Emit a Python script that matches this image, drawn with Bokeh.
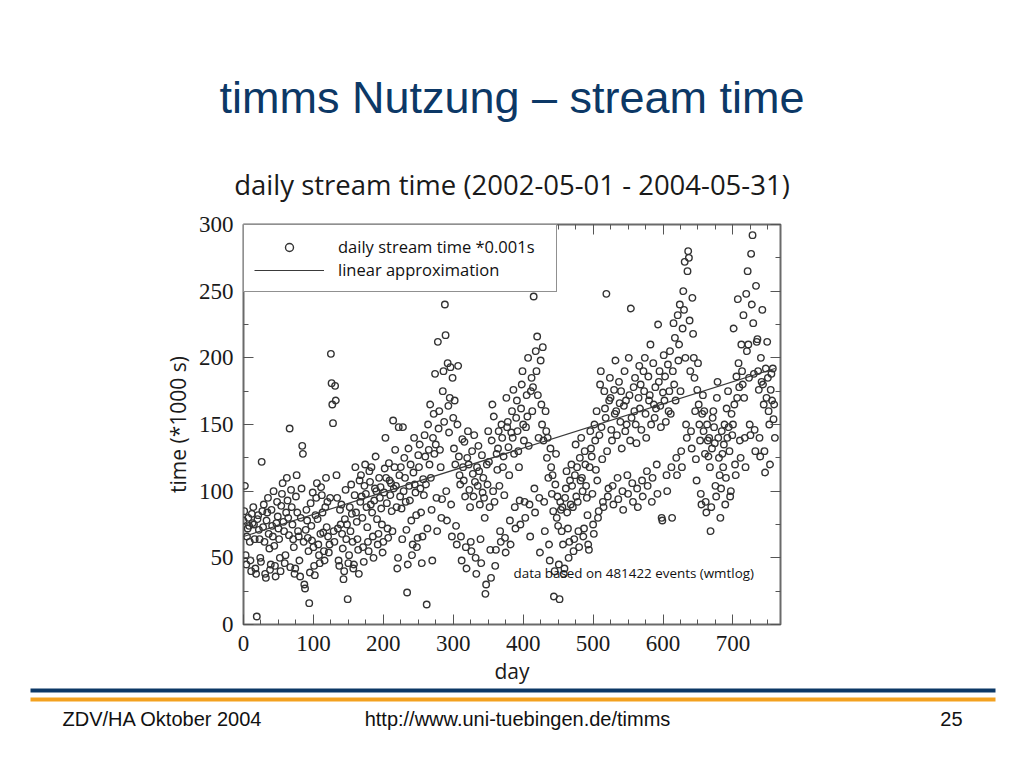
from bokeh.plotting import figure
from bokeh.models import (Label, BoxAnnotation, Legend, LegendItem, LinearAxis,
                          SingleIntervalTicker, Range1d, ColumnDataSource)
from bokeh.layouts import column
from bokeh.embed import file_html
from bokeh.resources import INLINE

# ---------------- data ----------------
slide_title = "timms Nutzung \u2013 stream time"
chart_title = "daily stream time (2002-05-01 - 2004-05-31)"
series_label = "daily stream time *0.001s"
fit_label = "linear approximation"
note_text = "data based on 481422 events (wmtlog)"
x_label = "day"
y_label = "time (*1000 s)"
footer_left = "ZDV/HA Oktober 2004"
footer_center = "http://www.uni-tuebingen.de/timms"
footer_right = "25"

# daily stream time in units of 1000 s, day 0 = 2002-05-01 (one row per week)
stream_time = [
    78, 85, 104, 52, 45, 66, 72,
    80, 74, 62, 48, 40, 83, 76,
    88, 75, 64, 42, 38, 6, 79,
    82, 71, 64, 50, 47, 122, 85,
    73, 90, 62, 38, 35, 78, 84,
    95, 68, 57, 41, 45, 86, 74,
    66, 100, 59, 44, 36, 76, 92,
    81, 72, 64, 50, 40, 89, 98,
    106, 77, 70, 46, 52, 84, 110,
    93, 80, 67, 147, 43, 101, 88,
    75, 64, 58, 38, 42, 96, 112,
    84, 70, 66, 48, 36, 80, 102,
    134, 128, 62, 30, 27, 71, 86,
    78, 65, 55, 16, 39, 91, 74,
    63, 99, 58, 44, 37, 82, 95,
    106, 79, 60, 52, 46, 68, 103,
    97, 84, 69, 55, 48, 88, 110,
    73, 92, 66, 54, 60, 95, 203,
    181, 165, 151, 70, 62, 179, 168,
    112, 95, 72, 48, 44, 86, 75,
    90, 68, 57, 34, 40, 79, 101,
    64, 75, 19, 46, 52, 88, 70,
    105, 83, 62, 42, 45, 97, 118,
    84, 77, 64, 56, 38, 108, 92,
    112, 96, 80, 58, 47, 104, 120,
    98, 88, 73, 62, 55, 115, 107,
    90, 118, 84, 66, 50, 93, 102,
    126, 100, 79, 60, 68, 110, 95,
    103, 87, 75, 54, 62, 99, 117,
    140, 110, 91, 72, 65, 121, 108,
    97, 106, 85, 70, 153, 102, 118,
    131, 104, 88, 42, 50, 148, 112,
    96, 118, 87, 64, 148, 100, 125,
    110, 92, 71, 24, 45, 132, 104,
    93, 120, 78, 52, 60, 114, 140,
    105, 99, 82, 58, 65, 127, 118,
    135, 102, 84, 46, 66, 109, 97,
    142, 126, 105, 15, 72, 150, 131,
    120, 165, 110, 86, 48, 140, 158,
    128, 188, 135, 95, 70, 212, 147,
    160, 131, 118, 80, 94, 175, 190,
    152, 240, 217, 100, 78, 196, 164,
    144, 170, 193, 90, 66, 185, 155,
    132, 168, 120, 74, 60, 150, 194,
    126, 112, 105, 66, 48, 139, 118,
    108, 137, 96, 58, 42, 125, 145,
    120, 101, 88, 62, 55, 130, 113,
    96, 142, 107, 50, 38, 118, 104,
    134, 115, 90, 64, 46, 127, 99,
    110, 95, 80, 23, 30, 120, 105,
    145, 122, 88, 56, 35, 138, 165,
    100, 156, 92, 44, 56, 128, 116,
    132, 145, 104, 70, 62, 150, 140,
    118, 126, 97, 65, 54, 170, 148,
    152, 133, 112, 78, 60, 144, 160,
    140, 176, 128, 88, 72, 155, 168,
    145, 130, 118, 93, 75, 162, 180,
    190, 150, 138, 92, 80, 148, 172,
    156, 200, 134, 90, 66, 175, 185,
    160, 178, 246, 102, 84, 205, 190,
    216, 172, 140, 95, 54, 198, 165,
    150, 208, 138, 92, 70, 160, 145,
    125, 140, 110, 60, 48, 132, 118,
    98, 112, 85, 21, 40, 105, 128,
    80, 96, 74, 45, 19, 92, 86,
    70, 88, 60, 38, 42, 95, 102,
    115, 84, 72, 50, 62, 108, 90,
    120, 104, 88, 55, 64, 112, 135,
    96, 118, 92, 70, 58, 125, 108,
    140, 110, 100, 66, 72, 130, 120,
    104, 95, 82, 60, 56, 118, 145,
    132, 126, 98, 75, 68, 150, 138,
    116, 160, 108, 80, 85, 142, 180,
    190, 148, 124, 92, 88, 175, 162,
    155, 248, 130, 96, 102, 168, 185,
    170, 146, 138, 104, 90, 176, 158,
    198, 160, 142, 110, 94, 182, 166,
    152, 175, 132, 100, 86, 164, 190,
    145, 168, 150, 112, 98, 200, 172,
    138, 237, 155, 106, 92, 178, 160,
    185, 150, 136, 102, 88, 170, 194,
    162, 180, 146, 108, 96, 190, 175,
    200, 158, 140, 115, 104, 186, 168,
    172, 210, 150, 92, 110, 196, 165,
    155, 178, 162, 120, 98, 225, 182,
    190, 164, 148, 80, 78, 174, 202,
    168, 186, 152, 112, 100, 195, 160,
    175, 205, 158, 118, 80, 190, 226,
    180, 215, 168, 125, 112, 232, 198,
    210, 240, 175, 130, 118, 222, 250,
    236, 272, 200, 150, 140, 265, 280,
    275, 228, 190, 145, 132, 245, 218,
    200, 185, 160, 124, 108, 176, 196,
    165, 150, 138, 98, 90, 158, 172,
    145, 160, 128, 92, 84, 150, 138,
    126, 140, 118, 70, 88, 132, 155,
    160, 148, 136, 104, 96, 170, 182,
    140, 125, 112, 80, 102, 145, 128,
    118, 135, 150, 90, 110, 162, 140,
    175, 148, 130, 96, 100, 158, 142,
    150, 222, 165, 120, 112, 186, 170,
    244, 196, 178, 138, 125, 210, 190,
    180, 232, 170, 140, 118, 248, 205,
    265, 210, 185, 150, 142, 278, 240,
    292, 226, 188, 146, 130, 254, 212,
    214, 190, 176, 140, 126, 200, 182,
    236, 180, 165, 130, 114, 192, 170,
    212, 185, 160, 150, 120, 176, 188,
    168, 192, 154, 165, 140,
]
days = list(range(len(stream_time)))

# linear approximation end points
fit_days = [0, 760]
fit_values = [66, 192]

x_range = (0, 768)
y_range = (0, 300)

W = 1008
navy = "#0c3866"
orange = "#f3a11f"
serif = "Liberation Serif"
sans = "Open Sans"


def blank_fig(h, y0, y1):
    f = figure(width=W, height=h, output_backend="svg", toolbar_location=None,
               x_range=Range1d(0, W), y_range=Range1d(y0, y1),
               x_axis_location=None, y_axis_location=None,
               min_border=0, min_border_left=0, min_border_right=0,
               min_border_top=0, min_border_bottom=0, frame_align=False,
               background_fill_color="white", border_fill_color="white")
    f.grid.visible = False
    f.outline_line_color = None
    return f


# ---------------- header (slide title + chart title) ----------------
HEAD_H = 210
head = blank_fig(HEAD_H, HEAD_H, 0)
head.add_layout(Label(x=511.5, y=97, text=slide_title, text_font="Liberation Sans",
                      text_font_size="45px", text_color=navy,
                      text_align="center", text_baseline="middle"))
head.add_layout(Label(x=511.5, y=184, text=chart_title,
                      text_font=sans, text_font_size="27.5px", text_color="#1a1a1a",
                      text_align="center", text_baseline="middle"))

# ---------------- main chart ----------------
MAIN_TOP, MAIN_BOT = HEAD_H, 687
p = figure(width=W, height=MAIN_BOT - MAIN_TOP, output_backend="svg",
           toolbar_location=None, frame_align=False,
           x_range=Range1d(*x_range), y_range=Range1d(*y_range),
           min_border_left=243, min_border_right=W - 780,
           min_border_top=224 - MAIN_TOP, min_border_bottom=MAIN_BOT - 626,
           background_fill_color="white", border_fill_color="white")
p.grid.visible = False
p.outline_line_color = "#6a6a6a"
p.outline_line_width = 2


def style_axis(ax, labels=True):
    ax.axis_line_color = None
    ax.major_tick_in = 10
    ax.major_tick_out = 0
    ax.minor_tick_in = 5
    ax.minor_tick_out = 0
    ax.major_tick_line_color = "#555555"
    ax.minor_tick_line_color = "#555555"
    ax.major_label_text_font = serif
    ax.major_label_text_font_size = "23px"
    ax.major_label_text_color = "#1a1a1a"
    ax.major_label_standoff = 8
    ax.axis_label_text_font = sans
    ax.axis_label_text_font_size = "21px"
    ax.axis_label_text_font_style = "normal"
    ax.axis_label_text_color = "#1a1a1a"
    if not labels:
        ax.major_label_text_font_size = "0px"
        ax.major_label_text_color = None
        ax.major_label_standoff = 0


p.xaxis.ticker = SingleIntervalTicker(interval=100, num_minor_ticks=4)
p.yaxis.ticker = SingleIntervalTicker(interval=50, num_minor_ticks=2)
style_axis(p.xaxis[0])
style_axis(p.yaxis[0])
p.xaxis.axis_label = x_label
p.yaxis.axis_label = y_label
p.xaxis.major_label_standoff = 11
p.xaxis.axis_label_standoff = 3
p.yaxis.axis_label_standoff = 4
p.yaxis.major_label_standoff = 10

top_ax = LinearAxis(ticker=SingleIntervalTicker(interval=100, num_minor_ticks=4))
right_ax = LinearAxis(ticker=SingleIntervalTicker(interval=50, num_minor_ticks=2))
style_axis(top_ax, labels=False)
style_axis(right_ax, labels=False)
p.add_layout(top_ax, "above")
p.add_layout(right_ax, "right")

src = ColumnDataSource(dict(day=days, t=stream_time))
pts = p.scatter("day", "t", source=src, marker="circle", size=6.5,
                fill_color=None, line_color="#333333", line_width=1.4)
ln = p.line(fit_days, fit_values, line_color="#3a3a3a", line_width=1.2)

legend = Legend(items=[LegendItem(label=series_label, renderers=[pts]),
                       LegendItem(label=fit_label, renderers=[ln])],
                location="top_left", margin=0, padding=10, spacing=0,
                glyph_width=70, glyph_height=20, label_height=20,
                label_width=208, label_standoff=14,
                label_text_font=sans, label_text_font_size="16.5px",
                label_text_color="#111111",
                border_line_color="#222222", border_line_width=1,
                background_fill_color="white", background_fill_alpha=1.0)
p.add_layout(legend)

# note inside the plot (screen units are relative to the frame)
p.add_layout(Label(x=270, y=52, x_units="screen", y_units="screen",
                   text=note_text, text_font=sans, text_font_size="13.4px",
                   text_color="#111111", text_baseline="middle"))

# ---------------- footer ----------------
FOOT_H = 752 - MAIN_BOT
foot = blank_fig(FOOT_H, 752, MAIN_BOT)
foot.add_layout(BoxAnnotation(left=30, right=995, top=688, bottom=692,
                              fill_color=navy, fill_alpha=1.0, line_color=None))
foot.add_layout(BoxAnnotation(left=30, right=995, top=697, bottom=701,
                              fill_color=orange, fill_alpha=1.0, line_color=None))
for x, txt, align in [(62, footer_left, "left"), (517, footer_center, "center"),
                      (962, footer_right, "right")]:
    foot.add_layout(Label(x=x, y=718, text=txt, text_font="Liberation Sans",
                          text_font_size="20px", text_color="#111111",
                          text_align=align, text_baseline="middle"))

layout = column(head, p, foot, spacing=0)
open("out.html", "w").write(file_html(layout, INLINE))
